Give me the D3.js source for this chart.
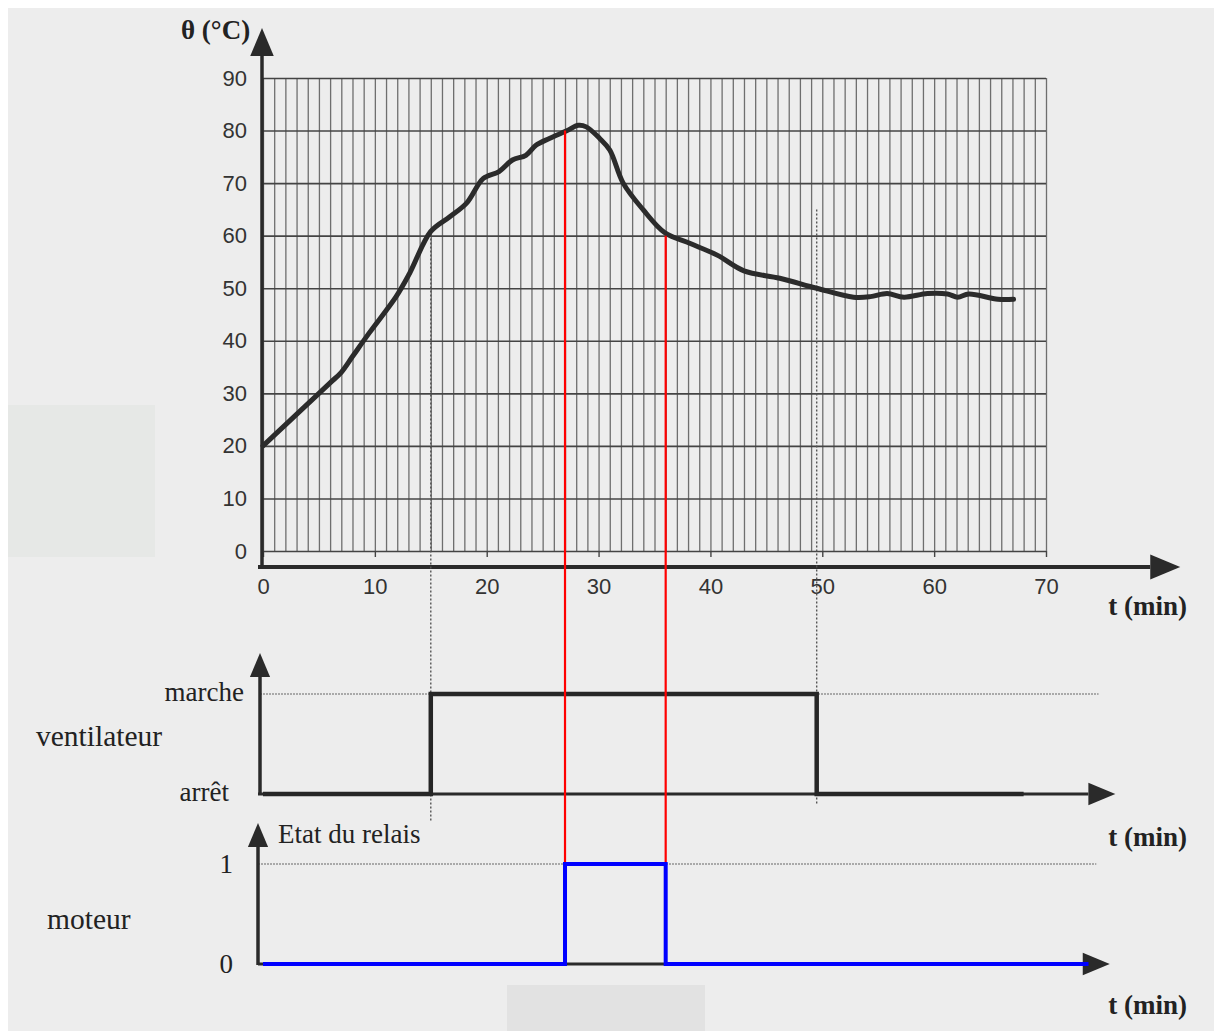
<!DOCTYPE html>
<html lang="fr">
    <head>
        <meta charset="utf-8">
        <title>Température, ventilateur et moteur</title>
        <script src="https://d3js.org/d3.v7.min.js"></script>
        <style type="text/css">
            body { margin: 0; background: #fff; }
            .tick text { font-family: "Liberation Sans", Arial, sans-serif; font-size: 22px; fill: #333; }
            .serif { font-family: "Liberation Serif", "Times New Roman", serif; fill: #222; }
            .bold { font-weight: bold; }
        </style>
    </head>
    <body>
        <script type="text/javascript">

            //temperature curve
            const times = [0, 2, 4, 6, 7, 8, 9.5, 11.9, 13.1, 15, 16.7, 18.2, 19.7, 21.1, 22.3, 23.5, 24.4, 25.6, 27.1, 28.2,
                           28.9, 30.1, 31, 32.2, 34, 35.9, 38.2, 40.6, 43, 46.2, 49.5, 52.8, 54.3, 55.8, 57.3, 59.4, 61.2, 62.1, 63.1, 65.7, 67.1];
            const temps = [20, 24, 28, 32, 34, 37, 41.5, 48.4, 52.8, 60.8, 63.6, 66.2, 70.9, 72.2, 74.4, 75.3, 77.2, 78.5, 79.9, 81.0,
                           80.7, 78.5, 76.3, 70.0, 64.9, 60.6, 58.5, 56.3, 53.3, 51.9, 50.0, 48.3, 48.4, 49.0, 48.3, 49.0, 48.9, 48.3, 48.9, 47.9, 47.9];

            //ventilateur (0 = arrêt, 1 = marche)
            const ventTimes = [0, 15, 15, 49.5, 49.5, 68];
            const ventStates = [0, 0, 1, 1, 0, 0];

            //moteur (état du relais)
            const motTimes = [0, 27, 27, 36, 36, 73.8];
            const motStates = [0, 0, 1, 1, 0, 0];

            //red markers: time, temperature where they start
            const markTimes = [27, 36];
            const markTemps = [80, 60];

            //dotted guides for the ventilateur switching
            const guideTimes = [15, 49.5];
            const guideTemps = [61, 65];

            const xTicks = [0, 10, 20, 30, 40, 50, 60, 70];
            const yTicks = [0, 10, 20, 30, 40, 50, 60, 70, 80, 90];

            const w = 1214;
            const h = 1031;

            const svg = d3.select("body").append("svg")
                .attr("width", w)
                .attr("height", h);

            //scanned paper background
            svg.append("rect").attr("width", w).attr("height", h).attr("fill", "#fff");
            svg.append("rect").attr("x", 8).attr("y", 8).attr("width", w - 8).attr("height", h - 8).attr("fill", "#ededed");
            svg.append("rect").attr("x", 8).attr("y", 405).attr("width", 147).attr("height", 152).attr("fill", "#e6e8e6");
            svg.append("rect").attr("x", 507).attr("y", 985).attr("width", 198).attr("height", 46).attr("fill", "#e2e2e2");

            //scales
            const x = d3.scaleLinear().domain([0, 70]).range([263, 1046]);
            const y = d3.scaleLinear().domain([0, 90]).range([551, 78]);
            const yv = d3.scaleLinear().domain([0, 1]).range([794, 694]);
            const ym = d3.scaleLinear().domain([0, 1]).range([964, 864]);

            //grid: vertical every minute, horizontal every 10 °C
            svg.append("g")
                .attr("transform", "translate(0," + y(90) + ")")
                .call(d3.axisBottom(x).tickValues(d3.range(0, 71)).tickSize(y(0) - y(90)).tickFormat(""))
                .call(g => g.select(".domain").remove())
                .call(g => g.selectAll("line").attr("stroke", "#6e6e6e").attr("stroke-width", 1.3));

            svg.append("g")
                .attr("transform", "translate(" + x(0) + ",0)")
                .call(d3.axisRight(y).tickValues(yTicks).tickSize(x(70) - x(0)).tickFormat(""))
                .call(g => g.select(".domain").remove())
                .call(g => g.selectAll("line").attr("stroke", "#444").attr("stroke-width", 1.6));

            //x tick labels under the grid
            svg.append("g")
                .attr("transform", "translate(0," + y(0) + ")")
                .call(d3.axisBottom(x).tickValues(xTicks).tickSize(6).tickPadding(21))
                .call(g => g.select(".domain").remove())
                .call(g => g.selectAll("line").attr("stroke", "#444").attr("stroke-width", 1.4));

            //y tick labels
            svg.append("g")
                .attr("transform", "translate(" + x(0) + ",0)")
                .call(d3.axisLeft(y).tickValues(yTicks).tickSize(0).tickPadding(16))
                .call(g => g.select(".domain").remove());

            //arrow helper
            function arrow(x1, y1, x2, y2, width, head) {
                const g = svg.append("g");
                const ang = Math.atan2(y2 - y1, x2 - x1);
                const bx = x2 - head * Math.cos(ang), by = y2 - head * Math.sin(ang);
                g.append("line").attr("x1", x1).attr("y1", y1).attr("x2", bx).attr("y2", by)
                    .attr("stroke", "#2a2a2a").attr("stroke-width", width);
                const hw = head * 0.42;
                const px = -Math.sin(ang) * hw, py = Math.cos(ang) * hw;
                g.append("path")
                    .attr("d", "M" + x2 + "," + y2 + "L" + (bx + px) + "," + (by + py) + "L" + (bx - px) + "," + (by - py) + "Z")
                    .attr("fill", "#2a2a2a");
            }

            //main axes
            arrow(x(0) - 1, 569, x(0) - 1, 28, 3.5, 28);
            arrow(x(0) - 5, 567, x(82), 567, 4, 30);

            //dotted guides
            svg.append("g").selectAll("line")
                .data(guideTimes)
                .join("line")
                .attr("x1", d => x(d)).attr("x2", d => x(d))
                .attr("y1", (d, i) => y(guideTemps[i]))
                .attr("y2", (d, i) => i === 0 ? 822 : 805)
                .attr("stroke", "#555")
                .attr("stroke-width", 1.4)
                .attr("stroke-dasharray", "2,2");

            //temperature curve
            const line = d3.line()
                .x(d => x(d[0]))
                .y(d => y(d[1]))
                .curve(d3.curveCatmullRom.alpha(0.5));

            svg.append("path")
                .datum(times.map((t, i) => [t, temps[i]]))
                .attr("d", line)
                .attr("fill", "none")
                .attr("stroke", "#2b2b2b")
                .attr("stroke-width", 5)
                .attr("stroke-linejoin", "round")
                .attr("stroke-linecap", "round");

            //ventilateur chart
            svg.append("line")
                .attr("x1", x(0) - 3).attr("x2", x(74.7))
                .attr("y1", yv(1)).attr("y2", yv(1))
                .attr("stroke", "#666").attr("stroke-width", 1.2).attr("stroke-dasharray", "2,1");
            arrow(x(0) - 3, yv(0) + 1, x(0) - 3, 653, 3.5, 24);
            arrow(x(0) - 5, yv(0), x(76.2), yv(0), 3, 27);

            const step = d3.line().x(d => x(d[0])).y(d => d[1]);

            svg.append("path")
                .datum(ventTimes.map((t, i) => [t, yv(ventStates[i])]))
                .attr("d", step)
                .attr("fill", "none")
                .attr("stroke", "#262626")
                .attr("stroke-width", 4.5);

            //moteur chart
            svg.append("line")
                .attr("x1", x(0) - 5).attr("x2", x(74.5))
                .attr("y1", ym(1)).attr("y2", ym(1))
                .attr("stroke", "#666").attr("stroke-width", 1.2).attr("stroke-dasharray", "2,1");
            arrow(x(0) - 5, ym(0) + 1, x(0) - 5, 823, 3.5, 24);
            arrow(x(0) - 5, ym(0), x(75.7), ym(0), 3, 27);

            //red markers
            svg.append("g").selectAll("line")
                .data(markTimes)
                .join("line")
                .attr("x1", d => x(d)).attr("x2", d => x(d))
                .attr("y1", (d, i) => y(markTemps[i]))
                .attr("y2", ym(1))
                .attr("stroke", "#ff0000")
                .attr("stroke-width", 2.2);

            svg.append("path")
                .datum(motTimes.map((t, i) => [t, ym(motStates[i])]))
                .attr("d", step)
                .attr("fill", "none")
                .attr("stroke", "#0000ff")
                .attr("stroke-width", 4);

            //texts
            const texts = [
                {t: "θ (°C)", x: 181, y: 39, a: "start", b: true, s: 27},
                {t: "t (min)", x: 1187, y: 615, a: "end", b: true, s: 27},
                {t: "marche", x: 244, y: 701, a: "end", b: false, s: 27},
                {t: "ventilateur", x: 36, y: 746, a: "start", b: false, s: 29.5},
                {t: "arrêt", x: 229, y: 801, a: "end", b: false, s: 27},
                {t: "t (min)", x: 1187, y: 846, a: "end", b: true, s: 27},
                {t: "Etat du relais", x: 278, y: 843, a: "start", b: false, s: 27},
                {t: "1", x: 233, y: 873, a: "end", b: false, s: 27},
                {t: "moteur", x: 47, y: 929, a: "start", b: false, s: 29.5},
                {t: "0", x: 233, y: 973, a: "end", b: false, s: 27},
                {t: "t (min)", x: 1187, y: 1014, a: "end", b: true, s: 27}
            ];

            svg.append("g").selectAll("text")
                .data(texts)
                .join("text")
                .attr("class", d => d.b ? "serif bold" : "serif")
                .attr("x", d => d.x)
                .attr("y", d => d.y)
                .attr("text-anchor", d => d.a)
                .style("font-size", d => d.s + "px")
                .text(d => d.t);

        </script>
    </body>
</html>
